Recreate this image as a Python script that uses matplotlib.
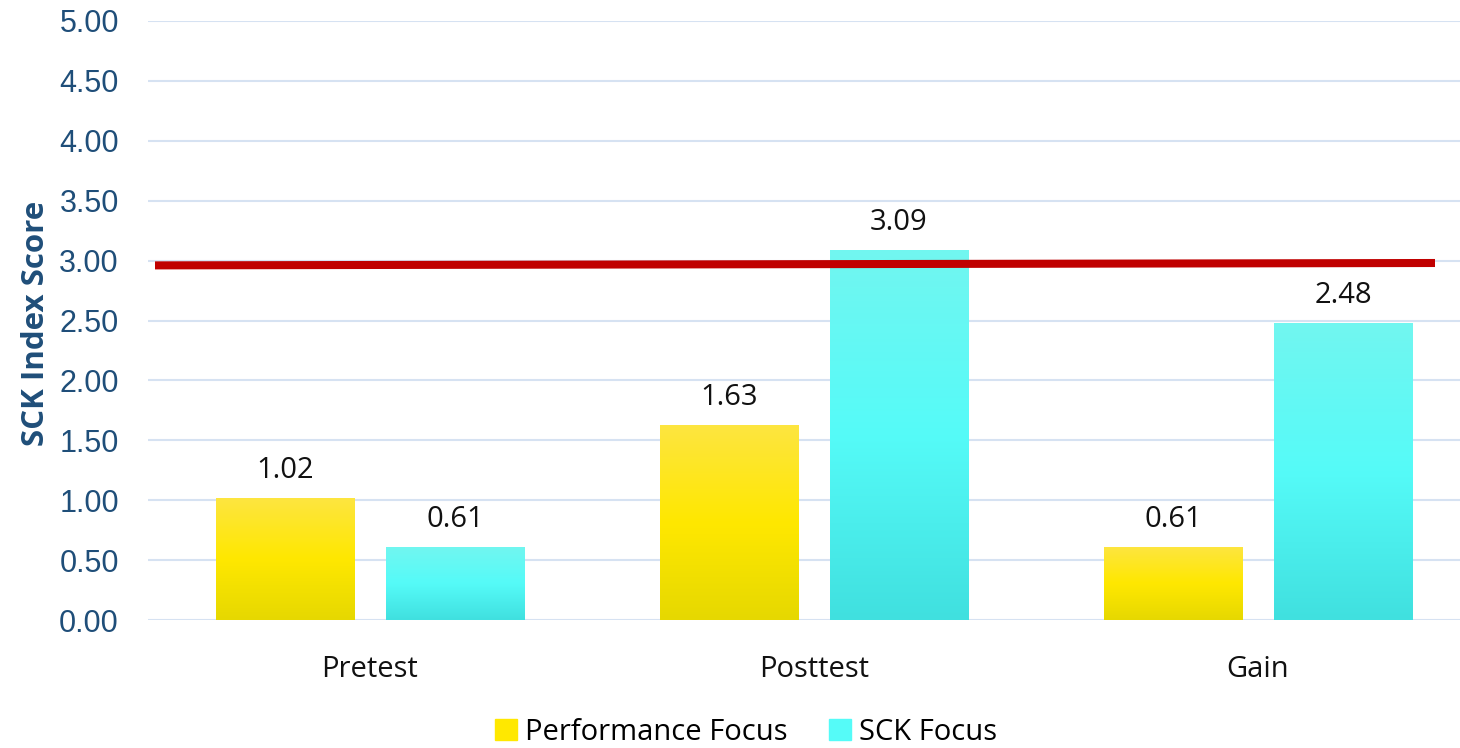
import numpy as np
import matplotlib
matplotlib.use('Agg')
import matplotlib.pyplot as plt
from matplotlib.colors import LinearSegmentedColormap
from matplotlib.patches import Rectangle

categories = ['Pretest', 'Posttest', 'Gain']
series_names = ['Performance Focus', 'SCK Focus']
performance = [1.02, 1.63, 0.61]
sck = [0.61, 3.09, 2.48]
threshold = [2.96, 2.98]  # red reference line, left / right end
yticks = [0, 0.5, 1, 1.5, 2, 2.5, 3, 3.5, 4, 4.5, 5]

# bottom, middle, top colours of the bar gradients
yellow = ['#E6D800', '#FFE800', '#FDE541']
cyan = ['#40E0DF', '#55FBF8', '#72F6F0']

plt.rcParams['font.family'] = ['Open Sans', 'DejaVu Sans']

fig = plt.figure(figsize=(14.6, 7.48), dpi=100)
ax = fig.add_axes([148 / 1460, 128 / 748, 1332 / 1460, 599 / 748])

x = np.arange(len(categories))
w = 0.311
off = 0.1915


def grad_bars(xs, vals, cols):
    cmap = LinearSegmentedColormap.from_list('g', cols)
    grad = np.linspace(0, 1, 256).reshape(-1, 1)
    bars = ax.bar(xs, vals, w, color='none', zorder=2)
    for b in bars:
        x0, y0 = b.get_x(), b.get_y()
        bw, bh = b.get_width(), b.get_height()
        im = ax.imshow(grad, cmap=cmap, origin='lower', aspect='auto',
                       extent=(x0, x0 + bw, y0, y0 + bh), zorder=2)
        im.set_clip_path(Rectangle((x0, y0), bw, bh, transform=ax.transData))
    return bars


b1 = grad_bars(x - off, performance, yellow)
b2 = grad_bars(x + off, sck, cyan)

for bars, vals in ((b1, performance), (b2, sck)):
    for b, v in zip(bars, vals):
        ax.text(b.get_x() + b.get_width() / 2, v + 0.11, f'{v:.2f}',
                ha='center', va='bottom', fontsize=21, color='#111111', zorder=4)

# threshold line
ax.plot([-0.5 + 7 / 444, 2.5 - 45 / 444], threshold, color='#C00000', lw=5.8,
        solid_capstyle='butt', zorder=3)

ax.set_xlim(-0.5, 2.5)
ax.set_ylim(0, 5)
ax.set_yticks(yticks)
ax.set_yticklabels([f'{t:.2f}' for t in yticks], family='Liberation Sans',
                   fontsize=22, color='#1F4E79')
ax.set_xticks(x)
ax.set_xticklabels(categories, fontsize=21, color='#111111')
ax.tick_params(axis='y', length=0, pad=21)
ax.tick_params(axis='x', length=0, pad=25)
ax.yaxis.grid(True, color='#D6E2F2', lw=1.5, zorder=0)
ax.set_axisbelow(True)
for s in ax.spines.values():
    s.set_visible(False)

fig.text(36 / 1460, 1 - 323 / 748, 'SCK Index Score', rotation=90, ha='center',
         va='center', fontsize=22.5, fontweight='bold', color='#1F4E79')

handles = [Rectangle((0, 0), 1, 1, color=yellow[1]), Rectangle((0, 0), 1, 1, color=cyan[1])]
fig.legend(handles, series_names, loc='center', bbox_to_anchor=(746 / 1460, 1 - 732 / 748),
           ncol=2, frameon=False, fontsize=21, handlelength=0.75, handleheight=0.75,
           handletextpad=0.3, columnspacing=1.4)

fig.savefig('out.png', dpi=100)
